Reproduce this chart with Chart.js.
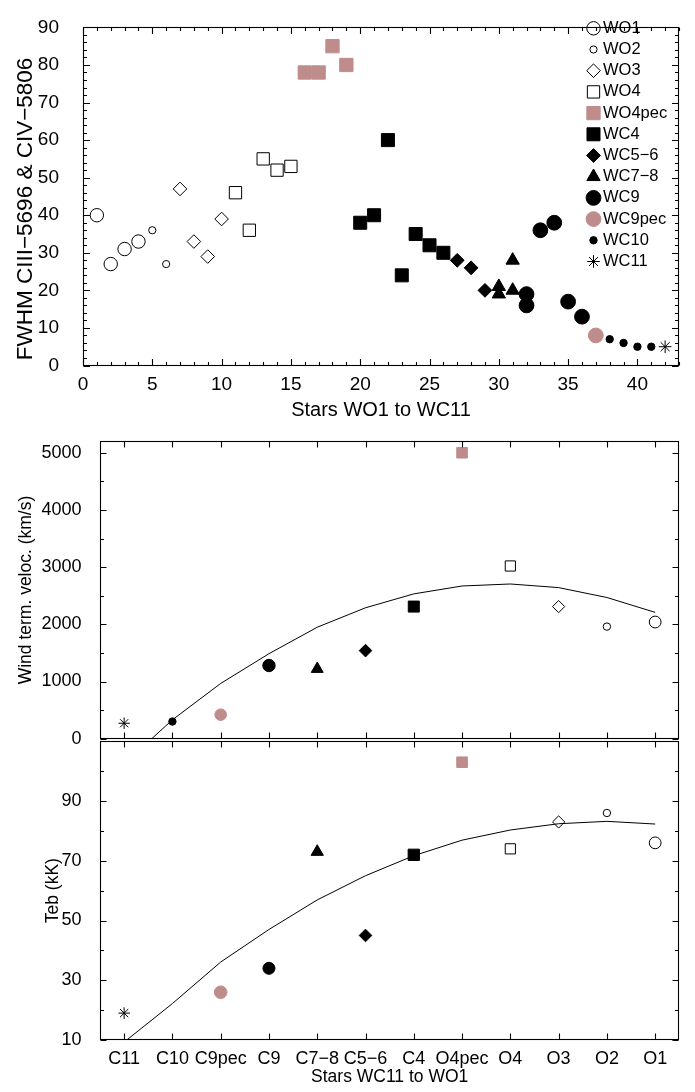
<!DOCTYPE html>
<html><head><meta charset="utf-8">
<script src="https://cdn.jsdelivr.net/npm/chart.js@4.4.1/dist/chart.umd.min.js"></script>
<style>
html,body{margin:0;padding:0;background:#fff;}
#wrap{position:relative;width:695px;height:1092px;overflow:hidden;background:#fff;}
canvas{position:absolute;left:0;}
</style></head><body>
<div id="wrap">
<canvas id="c1" width="695" height="425" style="top:0px"></canvas>
<canvas id="c2" width="695" height="340" style="top:420px"></canvas>
<canvas id="c3" width="695" height="372" style="top:720px"></canvas>
</div>
<script>
// ---------- DATA: top panel (FWHM vs star number) ----------
const classLabels = ['WO1','WO2','WO3','WO4','WO4pec','WC4','WC5\u22126','WC7\u22128','WC9','WC9pec','WC10','WC11'];
const wo1Stars = [1,2,3,4],            wo1Fwhm = [40,27,31,33];
const wo2Stars = [5,6],                wo2Fwhm = [36,27];
const wo3Stars = [7,8,9,10],           wo3Fwhm = [47,33,29,39];
const wo4Stars = [11,12,13,14,15],     wo4Fwhm = [46,36,55,52,53];
const wo4pecStars = [16,17,18,19],     wo4pecFwhm = [78,78,85,80];
const wc4Stars = [20,21,22,23,24,25,26], wc4Fwhm = [38,40,60,24,35,32,30];
const wc56Stars = [27,28,29],          wc56Fwhm = [28,26,20];
const wc78Stars = [30,30,31,31],       wc78Fwhm = [21,19,20,28];
const wc9Stars = [32,32,33,34,35,36],  wc9Fwhm = [19,16,36,38,17,13];
const wc9pecStars = [37],              wc9pecFwhm = [8];
const wc10Stars = [38,39,40,41],       wc10Fwhm = [7,6,5,5];
const wc11Stars = [42],                wc11Fwhm = [5];

// ---------- DATA: middle & bottom panels ----------
const categories = ['C11','C10','C9pec','C9','C7\u22128','C5\u22126','C4','O4pec','O4','O3','O2','O1'];
const windVel = [270, 300, 420, 1280, 1220, 1540, 2310, 5000, 3020, 2310, 1960, 2040];
const windFit = [-440, 330, 966, 1486, 1949, 2289, 2532, 2670, 2705, 2642, 2469, 2209];
const tebKK   = [19, null, 26, 34, 73, 45, 72, 103, 74, 83, 86, 76];
const tebFit  = [9.3, 22.2, 36.1, 47, 56.9, 65, 71.7, 76.9, 80.3, 82.4, 83.2, 82.3];

// ---------- TICK LABEL VALUES ----------
const topXTicks = [0, 5, 10, 15, 20, 25, 30, 35, 40];
const topYTicks = [0, 10, 20, 30, 40, 50, 60, 70, 80, 90];
const windTicks = [0, 1000, 2000, 3000, 4000, 5000];
const tebTicks  = [10, 30, 50, 70, 90];

// ---------- STYLES ----------
const BLACK = '#000000', PINK = '#bf8c8c', NONE = 'rgba(0,0,0,0)';
const FONT = '"Liberation Sans", Arial, Helvetica, sans-serif';

function seq(a, b, s) { const r = []; for (let v = a; v <= b + 1e-9; v += s) r.push(+v.toFixed(6)); return r; }
function pts(xs, ys) { return xs.map((x, i) => ({x: x, y: ys[i]})); }
function fixTicks(vals) { return function (s) { s.ticks = vals.map(v => ({value: v})); }; }

// per-class marker styles (top panel)
const topShape  = ['circle','circle','rectRot','rect','rect','rect','rectRot','triangle','circle','circle','circle','star'];
const topFill   = [NONE, NONE, NONE, NONE, PINK, BLACK, BLACK, BLACK, BLACK, PINK, BLACK, BLACK];
const topStroke = [BLACK, BLACK, BLACK, BLACK, PINK, BLACK, BLACK, BLACK, BLACK, PINK, BLACK, BLACK];
const topRadius = [6.7, 3.6, 6.8, 8.7, 9.4, 9.2, 6.9, 7.7, 7.4, 7.4, 3.7, 6.3];

// per-category marker styles (middle & bottom)
const catShape  = ['star','circle','circle','circle','triangle','rectRot','rect','rect','rect','rectRot','circle','circle'];
const catFill   = [BLACK, BLACK, PINK, BLACK, BLACK, BLACK, BLACK, PINK, NONE, NONE, NONE, NONE];
const catStroke = [BLACK, BLACK, PINK, BLACK, BLACK, BLACK, BLACK, PINK, BLACK, BLACK, BLACK, BLACK];
const midRadius = [5.7, 3.7, 5.8, 6.2, 6.9, 6.3, 7.8, 7.5, 7.2, 6.1, 3.7, 5.9];
const botRadius = [5.8, 3.7, 6.3, 6.0, 7.1, 6.3, 8.0, 7.5, 7.2, 6.1, 3.7, 5.9];

// ---------- PLUGINS ----------
const frameTicks = {
  id: 'frameTicks',
  afterDraw(chart, args, o) {
    const {ctx, chartArea: a, scales: {x, y}} = chart;
    ctx.save();
    ctx.strokeStyle = '#000'; ctx.lineWidth = 1.1;
    const L = Math.round(a.left) + 0.5, R = Math.round(a.right) - 0.5;
    const T = Math.round(a.top) + 0.5, B = Math.round(a.bottom) - 0.5;
    ctx.strokeRect(L, T, R - L, B - T);
    ctx.beginPath();
    const vt = (vals, len) => vals.forEach(v => {
      const p = Math.round(x.getPixelForValue(v)) + 0.5;
      ctx.moveTo(p, B); ctx.lineTo(p, B - len);
      ctx.moveTo(p, T); ctx.lineTo(p, T + len);
    });
    const ht = (vals, len) => vals.forEach(v => {
      const p = Math.round(y.getPixelForValue(v)) + 0.5;
      ctx.moveTo(L, p); ctx.lineTo(L + len, p);
      ctx.moveTo(R, p); ctx.lineTo(R - len, p);
    });
    vt(o.xMajor || [], o.majorLen); vt(o.xMinor || [], o.minorLen);
    ht(o.yMajor || [], o.majorLen); ht(o.yMinor || [], o.minorLen);
    ctx.stroke();
    ctx.restore();
  }
};

function drawMarker(ctx, style, radius, x, y) {
  if (Chart.helpers && Chart.helpers.drawPoint) {
    Chart.helpers.drawPoint(ctx, {pointStyle: style, radius: radius, rotation: 0, borderWidth: 1}, x, y);
    return;
  }
  ctx.beginPath();
  ctx.arc(x, y, radius, 0, Math.PI * 2);
  ctx.fill(); ctx.stroke();
}

const innerLegend = {
  id: 'innerLegend',
  afterDraw(chart, args, o) {
    if (!o || !o.show) return;
    const ctx = chart.ctx;
    ctx.save();
    chart.data.datasets.forEach((ds, i) => {
      const y = o.y0 + i * o.dy;
      ctx.fillStyle = ds.pointBackgroundColor;
      ctx.strokeStyle = ds.pointBorderColor;
      ctx.lineWidth = 1;
      drawMarker(ctx, ds.pointStyle, ds.pointRadius, o.x, y);
      ctx.fillStyle = '#000';
      ctx.font = o.font;
      ctx.textBaseline = 'middle';
      ctx.textAlign = 'left';
      ctx.fillText(ds.label, o.tx, y);
    });
    ctx.restore();
  }
};

// ---------- TOP CHART ----------
const topXs = [wo1Stars, wo2Stars, wo3Stars, wo4Stars, wo4pecStars, wc4Stars, wc56Stars, wc78Stars, wc9Stars, wc9pecStars, wc10Stars, wc11Stars];
const topYs = [wo1Fwhm, wo2Fwhm, wo3Fwhm, wo4Fwhm, wo4pecFwhm, wc4Fwhm, wc56Fwhm, wc78Fwhm, wc9Fwhm, wc9pecFwhm, wc10Fwhm, wc11Fwhm];
const topDatasets = classLabels.map((lab, i) => ({
  label: lab,
  data: pts(topXs[i], topYs[i]),
  pointStyle: topShape[i],
  pointRadius: topRadius[i],
  pointHoverRadius: topRadius[i],
  pointBackgroundColor: topFill[i],
  pointBorderColor: topStroke[i],
  pointBorderWidth: 1,
  showLine: false
}));

new Chart(document.getElementById('c1'), {
  type: 'scatter',
  data: { datasets: topDatasets },
  plugins: [frameTicks, innerLegend],
  options: {
    responsive: false, animation: false, devicePixelRatio: 1,
    layout: { padding: { top: 12.5, right: 16, left: 0, bottom: 0 } },
    plugins: {
      legend: { display: false }, tooltip: { enabled: false },
      frameTicks: { xMajor: topXTicks, xMinor: seq(0, 43, 1), yMajor: topYTicks, yMinor: seq(0, 90, 2), majorLen: 6.5, minorLen: 3.5 },
      innerLegend: { show: true, x: 593.5, tx: 603, y0: 28.3, dy: 21.2, font: '16.5px ' + FONT }
    },
    scales: {
      x: {
        type: 'linear', min: 0, max: 43,
        grid: { display: false }, border: { display: false },
        afterBuildTicks: fixTicks(topXTicks),
        ticks: { autoSkip: false, color: '#000', padding: 0, font: { family: FONT, size: 19 },
                 callback: v => String(v) },
        title: { display: true, text: 'Stars WO1 to WC11', color: '#000', font: { family: FONT, size: 20 }, padding: { top: 0, bottom: 3 } },
        afterFit(s) { s.height = 59.5; }
      },
      y: {
        type: 'linear', min: 0, max: 90,
        grid: { display: false }, border: { display: false },
        afterBuildTicks: fixTicks(topYTicks),
        ticks: { autoSkip: false, color: '#000', padding: 16, font: { family: FONT, size: 19 },
                 callback: v => String(v) },
        title: { display: true, text: 'FWHM CIII\u22125696 & CIV\u22125806\u00a0\u00a0\u00a0\u00a0', color: '#000', font: { family: FONT, size: 22.5 }, padding: { top: 12.5, bottom: 0 } },
        afterFit(s) { s.width = 83; }
      }
    }
  }
});

// ---------- MIDDLE CHART ----------
new Chart(document.getElementById('c2'), {
  type: 'line',
  data: {
    labels: categories,
    datasets: [
      { label: 'Wind term. veloc.', data: windVel, showLine: false,
        pointStyle: catShape, pointRadius: midRadius, pointHoverRadius: midRadius,
        pointBackgroundColor: catFill, pointBorderColor: catStroke, pointBorderWidth: 1 },
      { label: 'fit', data: windFit, borderColor: '#000', borderWidth: 1, pointRadius: 0, pointHoverRadius: 0, fill: false, tension: 0 }
    ]
  },
  plugins: [frameTicks],
  options: {
    responsive: false, animation: false, devicePixelRatio: 1,
    layout: { padding: { top: 20.5, right: 15.7, left: 0, bottom: 0 } },
    plugins: {
      legend: { display: false }, tooltip: { enabled: false },
      frameTicks: { xMajor: categories.map((c, i) => i), yMajor: windTicks, yMinor: seq(500, 5000, 1000), majorLen: 6, minorLen: 3.5 }
    },
    scales: {
      x: {
        type: 'category', offset: true,
        grid: { display: false }, border: { display: false },
        ticks: { display: false },
        afterFit(s) { s.height = 19.5; }
      },
      y: {
        type: 'linear', min: 0, max: 5200,
        grid: { display: false }, border: { display: false },
        afterBuildTicks: fixTicks(windTicks),
        ticks: { autoSkip: false, color: '#000', padding: 10.5, font: { family: FONT, size: 18 },
                 callback: v => String(v) },
        title: { display: true, text: 'Wind term. veloc. (km/s)', color: '#000', font: { family: FONT, size: 17.5 }, padding: { top: 15.5, bottom: 0 } },
        afterFit(s) { s.width = 100; }
      }
    }
  }
});

// ---------- BOTTOM CHART ----------
new Chart(document.getElementById('c3'), {
  type: 'line',
  data: {
    labels: categories,
    datasets: [
      { label: 'Teb', data: tebKK, showLine: false,
        pointStyle: catShape, pointRadius: botRadius, pointHoverRadius: botRadius,
        pointBackgroundColor: catFill, pointBorderColor: catStroke, pointBorderWidth: 1 },
      { label: 'fit', data: tebFit, borderColor: '#000', borderWidth: 1, pointRadius: 0, pointHoverRadius: 0, fill: false, tension: 0 }
    ]
  },
  plugins: [frameTicks],
  options: {
    responsive: false, animation: false, devicePixelRatio: 1,
    layout: { padding: { top: 20.5, right: 15.7, left: 0, bottom: 0 } },
    plugins: {
      legend: { display: false }, tooltip: { enabled: false },
      frameTicks: { xMajor: categories.map((c, i) => i), yMajor: tebTicks, yMinor: seq(20, 100, 20), majorLen: 6, minorLen: 3.5 }
    },
    scales: {
      x: {
        type: 'category', offset: true,
        grid: { display: false }, border: { display: false },
        ticks: { autoSkip: false, maxRotation: 0, color: '#000', padding: 0, font: { family: FONT, size: 18 } },
        title: { display: true, text: 'Stars WC11 to WO1', color: '#000', font: { family: FONT, size: 17.5 }, padding: { top: 0, bottom: 4.5 } },
        afterFit(s) { s.height = 52; }
      },
      y: {
        type: 'linear', min: 10, max: 110,
        grid: { display: false }, border: { display: false },
        afterBuildTicks: fixTicks(tebTicks),
        ticks: { autoSkip: false, color: '#000', padding: 10.5, font: { family: FONT, size: 18 },
                 callback: v => String(v) },
        title: { display: true, text: 'Teb (kK)', color: '#000', font: { family: FONT, size: 17.5 }, padding: { top: 42.5, bottom: 0 } },
        afterFit(s) { s.width = 100; }
      }
    }
  }
});
</script>
</body></html>
